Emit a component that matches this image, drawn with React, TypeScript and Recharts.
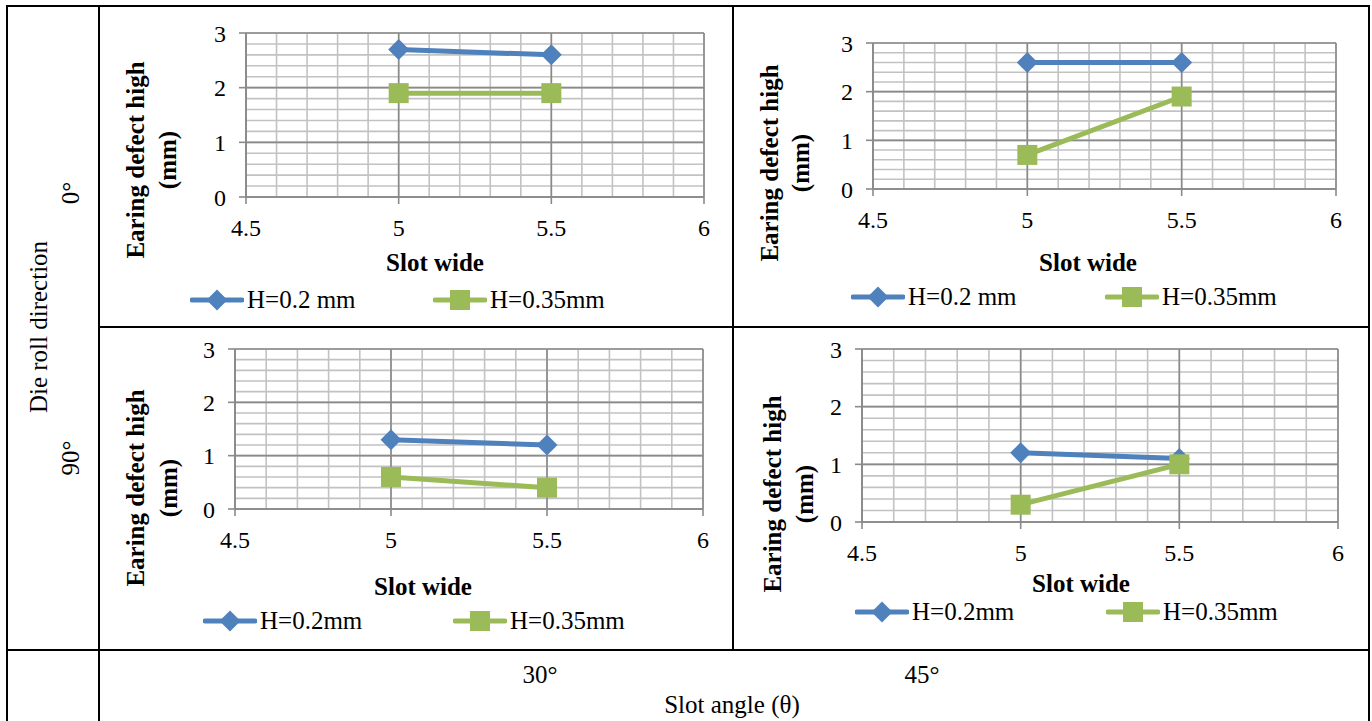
import React from 'react';
import { LineChart, Line, XAxis, YAxis, CartesianGrid, Legend, Label } from 'recharts';

const FONT = 'Liberation Serif, DejaVu Serif, serif';

// x values (slot wide) and axis ticks
const slotWide = [5, 5.5];
const xTicks = [4.5, 5, 5.5, 6];
const xMinorTicks = [4.5, 4.6, 4.7, 4.8, 4.9, 5, 5.1, 5.2, 5.3, 5.4, 5.5, 5.6, 5.7, 5.8, 5.9, 6];
const yTicks = [0, 1, 2, 3];
const yMinorTicks = [0, 0.2, 0.4, 0.6, 0.8, 1, 1.2, 1.4, 1.6, 1.8, 2, 2.2, 2.4, 2.6, 2.8, 3];

// earing defect high (mm)
const roll0Slot30H02 = [2.7, 2.6];
const roll0Slot30H035 = [1.9, 1.9];
const roll0Slot45H02 = [2.6, 2.6];
const roll0Slot45H035 = [0.7, 1.9];
const roll90Slot30H02 = [1.3, 1.2];
const roll90Slot30H035 = [0.6, 0.4];
const roll90Slot45H02 = [1.2, 1.1];
const roll90Slot45H035 = [0.3, 1.0];

const namesSpaced = ['H=0.2 mm', 'H=0.35mm'];
const namesTight = ['H=0.2mm', 'H=0.35mm'];

const BLUE = '#4F81BD';
const GREEN = '#9BBB59';
const MAJOR = '#8a8a8a';
const MINOR = '#c2c2c2';

const panels = [
  { id: 'r0s30', h02: roll0Slot30H02, h035: roll0Slot30H035, names: namesSpaced },
  { id: 'r0s45', h02: roll0Slot45H02, h035: roll0Slot45H035, names: namesSpaced },
  { id: 'r90s30', h02: roll90Slot30H02, h035: roll90Slot30H035, names: namesTight },
  { id: 'r90s45', h02: roll90Slot45H02, h035: roll90Slot45H035, names: namesTight },
];

// cell box + plot box (cell relative)
const layouts = [
  { left: 100, top: 7, w: 633, h: 319, pl: 146, pr: 604, pt: 26, pb: 190, yl1: 35, yl2: 67, ylc: 153, xtx: 335, xty: 255, lg: [90, 333], lgy: 293 },
  { left: 734, top: 7, w: 635, h: 319, pl: 139, pr: 602, pt: 36, pb: 182, yl1: 35, yl2: 66, ylc: 156, xtx: 354, xty: 255, lg: [117, 371], lgy: 290 },
  { left: 100, top: 328, w: 633, h: 321, pl: 135, pr: 603, pt: 21, pb: 181, yl1: 35, yl2: 68, ylc: 160, xtx: 323, xty: 258, lg: [103, 353], lgy: 293 },
  { left: 734, top: 328, w: 635, h: 321, pl: 128, pr: 604, pt: 21, pb: 194, yl1: 38, yl2: 70, ylc: 166, xtx: 347, xty: 255, lg: [121, 372], lgy: 284 },
];

const X_AXIS_H = 60;

const diamondDot = (props: any) => {
  const { cx, cy, index } = props;
  if (cx == null || cy == null) return null;
  const r = 10.5;
  return <path key={`d${index}`} d={`M${cx},${cy - r}L${cx + r},${cy}L${cx},${cy + r}L${cx - r},${cy}Z`} fill={BLUE} />;
};

const squareDot = (props: any) => {
  const { cx, cy, index } = props;
  if (cx == null || cy == null) return null;
  return <rect key={`s${index}`} x={cx - 10} y={cy - 10} width={20} height={20} fill={GREEN} />;
};

const LegendIcon = ({ color, shape }: { color: string; shape: 'diamond' | 'square' }) => (
  <svg width={54} height={24} style={{ display: 'block' }}>
    <line x1={2} x2={52} y1={12} y2={12} stroke={color} strokeWidth={5} strokeLinecap="round" />
    {shape === 'diamond' ? (
      <path d="M27,1.5L37.5,12L27,22.5L16.5,12Z" fill={color} />
    ) : (
      <rect x={17} y={2} width={20} height={20} fill={color} />
    )}
  </svg>
);

const EarChart = ({ panel, lay }: { panel: any; lay: any }) => {
  const data = slotWide.map((x, i) => ({ x, h02: panel.h02[i], h035: panel.h035[i] }));
  const series = [
    { name: panel.names[0], color: BLUE, shape: 'diamond' as const },
    { name: panel.names[1], color: GREEN, shape: 'square' as const },
  ];
  const tickStyle = { fill: '#000', fontSize: 24, fontFamily: FONT };

  return (
    <div style={{ position: 'absolute', left: lay.left, top: lay.top }}>
      <LineChart
        width={lay.w}
        height={lay.h}
        data={data}
        margin={{ top: lay.pt, right: lay.w - lay.pr, bottom: lay.h - lay.pb - X_AXIS_H, left: 0 }}
      >
        <CartesianGrid horizontalValues={yMinorTicks} verticalValues={xMinorTicks} stroke={MINOR} strokeWidth={1.6} />
        <CartesianGrid horizontalValues={yTicks} verticalValues={xTicks} stroke={MAJOR} strokeWidth={1.6} />
        <XAxis
          dataKey="x"
          type="number"
          domain={[4.5, 6]}
          ticks={xTicks}
          interval={0}
          height={X_AXIS_H}
          tick={tickStyle}
          tickSize={7}
          tickMargin={15}
          axisLine={{ stroke: MAJOR, strokeWidth: 1.6 }}
          tickLine={{ stroke: MAJOR, strokeWidth: 1.6 }}
        >
          <Label
            content={() => (
              <text x={lay.xtx} y={lay.xty} textAnchor="middle" dominantBaseline="central" fontFamily={FONT} fontSize={25} fontWeight="bold" fill="#000">
                Slot wide
              </text>
            )}
          />
        </XAxis>
        <YAxis
          type="number"
          domain={[0, 3]}
          ticks={yTicks}
          interval={0}
          width={lay.pl}
          tick={tickStyle}
          tickSize={7}
          tickMargin={13}
          axisLine={{ stroke: MAJOR, strokeWidth: 1.6 }}
          tickLine={{ stroke: MAJOR, strokeWidth: 1.6 }}
        >
          <Label
            content={() => (
              <g fontFamily={FONT} fontSize={25} fontWeight="bold" fill="#000">
                <text x={lay.yl1} y={lay.ylc} textAnchor="middle" dominantBaseline="central" transform={`rotate(-90, ${lay.yl1}, ${lay.ylc})`}>
                  Earing defect high
                </text>
                <text x={lay.yl2} y={lay.ylc} textAnchor="middle" dominantBaseline="central" transform={`rotate(-90, ${lay.yl2}, ${lay.ylc})`}>
                  (mm)
                </text>
              </g>
            )}
          />
        </YAxis>
        <Legend
          layout="horizontal"
          verticalAlign="middle"
          align="center"
          wrapperStyle={{ left: 0, top: 0, width: lay.w, height: lay.h, pointerEvents: 'none' }}
          content={() => (
            <div style={{ position: 'relative', width: lay.w, height: lay.h }}>
              {series.map((s, i) => (
                <div
                  key={s.name}
                  style={{ position: 'absolute', left: lay.lg[i], top: lay.lgy - 15, height: 30, display: 'flex', alignItems: 'center' }}
                >
                  <LegendIcon color={s.color} shape={s.shape} />
                  <span style={{ marginLeft: 3, fontFamily: FONT, fontSize: 25, lineHeight: '30px', color: '#000', whiteSpace: 'nowrap' }}>{s.name}</span>
                </div>
              ))}
            </div>
          )}
        />
        <Line
          type="linear"
          dataKey="h02"
          name={series[0].name}
          stroke={BLUE}
          strokeWidth={5}
          dot={diamondDot}
          activeDot={false}
          isAnimationActive={false}
        />
        <Line
          type="linear"
          dataKey="h035"
          name={series[1].name}
          stroke={GREEN}
          strokeWidth={5}
          dot={squareDot}
          activeDot={false}
          isAnimationActive={false}
        />
      </LineChart>
    </div>
  );
};

const TableFrame = () => (
  <svg width={1372} height={721} style={{ position: 'absolute', left: 0, top: 0 }}>
    <g stroke="#000" strokeWidth={2}>
      <line x1={7} x2={7} y1={5} y2={721} />
      <line x1={1369} x2={1369} y1={5} y2={721} />
      <line x1={6} x2={1370} y1={6} y2={6} />
      <line x1={99} x2={99} y1={6} y2={721} />
      <line x1={733} x2={733} y1={6} y2={650} />
      <line x1={99} x2={1370} y1={327} y2={327} />
      <line x1={6} x2={1370} y1={650} y2={650} />
    </g>
    <g fontFamily={FONT} fontSize={25} fill="#000" textAnchor="middle" dominantBaseline="central">
      <text x={70} y={193} transform="rotate(-90, 70, 193)">0°</text>
      <text x={38} y={327} transform="rotate(-90, 38, 327)">Die roll direction</text>
      <text x={70} y={458} transform="rotate(-90, 70, 458)">90°</text>
      <text x={540} y={674}>30°</text>
      <text x={922} y={674}>45°</text>
      <text x={732} y={704}>Slot angle (θ)</text>
    </g>
  </svg>
);

export default function App() {
  return (
    <div style={{ position: 'fixed', left: 0, top: 0, width: 1372, height: 721, background: '#fff', overflow: 'hidden' }}>
      <TableFrame />
      {panels.map((p, i) => (
        <EarChart key={p.id} panel={p} lay={layouts[i]} />
      ))}
    </div>
  );
}
